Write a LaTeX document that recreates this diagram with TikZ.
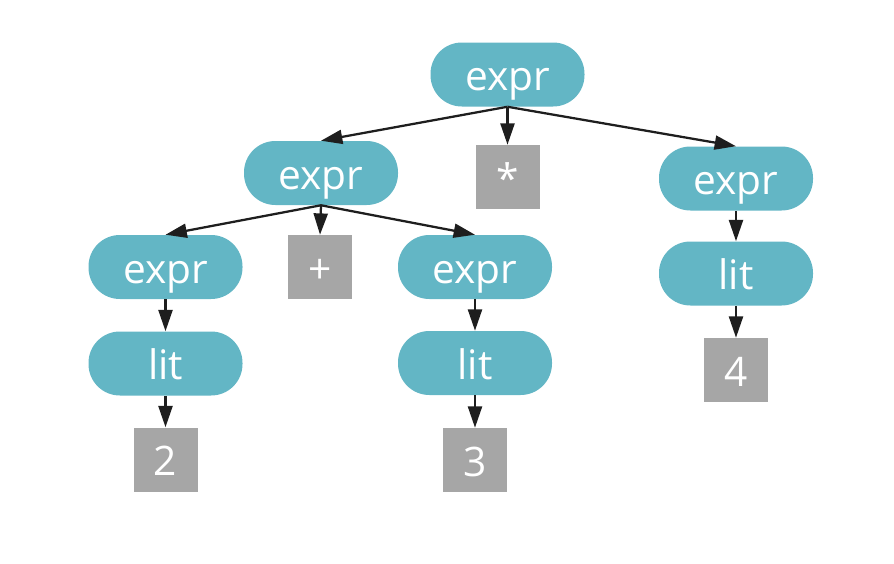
\documentclass[tikz,border=0pt]{standalone}
\usepackage{fontspec}
\setmainfont{Open Sans}
\usetikzlibrary{arrows.meta}
\definecolor{tealfill}{RGB}{99,182,197}
\definecolor{grayfill}{RGB}{166,166,166}
\definecolor{edgecol}{RGB}{30,30,30}
\begin{document}
\begin{tikzpicture}[x=0.75pt,y=-0.75pt,
  basebox/.style={inner sep=0pt, text=white, font=\fontsize{30.5}{36}\selectfont, text height=24pt, text depth=0pt},
  pill/.style={basebox, fill=tealfill, minimum width=115.5pt, minimum height=48pt, rounded corners=23.5pt},
  term/.style={basebox, fill=grayfill, minimum width=48pt, minimum height=48pt},
  edgeline/.style={draw=edgecol, line width=1.7pt, -{Triangle[length=16pt,width=10.5pt]}}]
\useasboundingbox (0,0) rectangle (894,564);
\node[pill] (root) at (507.5,74.5) {expr};
\node[pill] (exprL) at (321,173) {expr};
\node[term] (star) at (507.5,177) {*};
\node[pill] (exprR) at (736,178.5) {expr};
\node[pill] (exprLL) at (165.5,267) {expr};
\node[term] (plus) at (320,267) {+};
\node[pill] (exprLR) at (475,267) {expr};
\node[pill] (litR) at (736,273.5) {lit};
\node[pill] (litL) at (165.5,363.5) {lit};
\node[pill] (litLR) at (475,363) {lit};
\node[term] (four) at (736,370) {4};
\node[term] (two) at (165.5,459.5) {2};
\node[term] (three) at (475,460) {3};
\draw[edgeline] (root.south) -- (exprL.north);
\draw[edgeline] (root.south) -- (star.north);
\draw[edgeline] (root.south) -- (exprR.north);
\draw[edgeline] (exprL.south) -- (exprLL.north);
\draw[edgeline] (exprL.south) -- (plus.north);
\draw[edgeline] (exprL.south) -- (exprLR.north);
\draw[edgeline] (exprR.south) -- (litR.north);
\draw[edgeline] (litR.south) -- (four.north);
\draw[edgeline] (exprLL.south) -- (litL.north);
\draw[edgeline] (litL.south) -- (two.north);
\draw[edgeline] (exprLR.south) -- (litLR.north);
\draw[edgeline] (litLR.south) -- (three.north);
\end{tikzpicture}
\end{document}
